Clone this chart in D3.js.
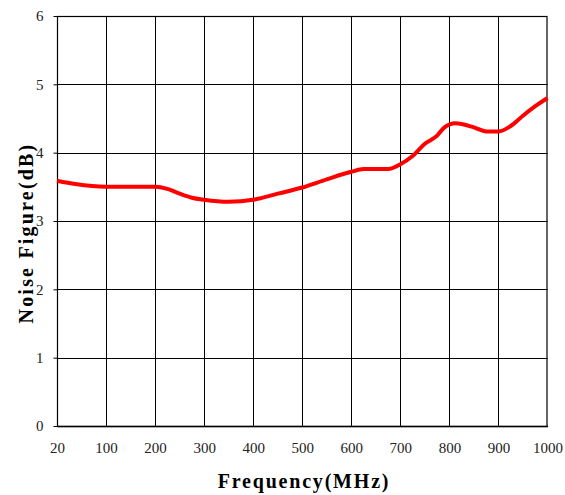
<!DOCTYPE html>
<html>
<head>
<meta charset="utf-8">
<script src="https://cdn.jsdelivr.net/npm/d3@7"></script>
<style>
  body { margin: 0; background: #fff; }
  text { font-family: "Liberation Serif", "Times New Roman", serif; }
</style>
</head>
<body>
<div id="chart"></div>
<script>
// 資料
const freqTicks = [20, 100, 200, 300, 400, 500, 600, 700, 800, 900, 1000];
const nfTicks = [0, 1, 2, 3, 4, 5, 6];
const freq = [20, 50, 100, 150, 200, 225, 250, 275, 300, 350, 400, 450, 500, 550, 600, 625, 650, 675, 700, 725, 750, 775, 790, 812, 850, 875, 900, 925, 950, 975, 1000];
const noiseFigure = [3.59, 3.54, 3.50, 3.50, 3.50, 3.47, 3.40, 3.34, 3.31, 3.28, 3.31, 3.40, 3.49, 3.61, 3.72, 3.76, 3.76, 3.76, 3.83, 3.95, 4.13, 4.25, 4.37, 4.43, 4.37, 4.31, 4.31, 4.39, 4.54, 4.68, 4.80];

const W = 565, H = 495;
const plot = { left: 57, right: 547.5, top: 16, bottom: 426 };

const svg = d3
  .select("#chart")
  .append("svg")
  .attr("width", W)
  .attr("height", H);

// x 軸為等距分類刻度
const x = d3
  .scaleLinear()
  .domain(freqTicks)
  .range(freqTicks.map((d, i) => plot.left + (i * (plot.right - plot.left)) / (freqTicks.length - 1)));
const y = d3.scaleLinear().domain([0, 6]).range([plot.bottom, plot.top]);

// 格線
svg
  .append("g")
  .selectAll("line")
  .data(freqTicks.slice(1, -1))
  .join("line")
  .attr("x1", (d) => Math.round(x(d)) + 0.5)
  .attr("x2", (d) => Math.round(x(d)) + 0.5)
  .attr("y1", plot.top)
  .attr("y2", plot.bottom)
  .attr("stroke", "#000")
  .attr("stroke-width", 1);

svg
  .append("g")
  .selectAll("line")
  .data(nfTicks.slice(1, -1))
  .join("line")
  .attr("x1", plot.left)
  .attr("x2", plot.right)
  .attr("y1", (d) => Math.round(y(d)) + 0.5)
  .attr("y2", (d) => Math.round(y(d)) + 0.5)
  .attr("stroke", "#000")
  .attr("stroke-width", 1);

// 外框
svg
  .append("rect")
  .attr("x", plot.left + 0.5)
  .attr("y", plot.top + 0.5)
  .attr("width", plot.right - plot.left - 1)
  .attr("height", plot.bottom - plot.top)
  .attr("fill", "none")
  .attr("stroke", "#000")
  .attr("stroke-width", 1.2);

// y 軸刻度
const yAxis = svg
  .append("g")
  .attr("transform", `translate(${plot.left + 0.5},0)`)
  .call(d3.axisLeft(y).tickValues(nfTicks).tickSize(4).tickPadding(10).tickFormat(d3.format("d")));
yAxis.select(".domain").remove();
yAxis.selectAll("text").attr("font-size", 15).attr("fill", "#222");

// x 軸刻度
const xAxis = svg
  .append("g")
  .attr("transform", `translate(0,${plot.bottom})`)
  .call(d3.axisBottom(x).tickValues(freqTicks).tickSize(0).tickPadding(16).tickFormat(d3.format("d")));
xAxis.select(".domain").attr("stroke-width", 1.5);
xAxis.selectAll("text").attr("font-size", 15).attr("fill", "#222");

// 曲線
const line = d3
  .line()
  .x((d, i) => x(freq[i]))
  .y((d) => y(d))
  .curve(d3.curveMonotoneX);

svg
  .append("path")
  .datum(noiseFigure)
  .attr("d", line)
  .attr("fill", "none")
  .attr("stroke", "#ff0000")
  .attr("stroke-width", 4)
  .attr("stroke-linejoin", "round");

// 軸標題
svg
  .append("text")
  .attr("x", 304)
  .attr("y", 488)
  .attr("text-anchor", "middle")
  .attr("font-size", 20)
  .attr("font-weight", "bold")
  .attr("letter-spacing", 1.8)
  .text("Frequency(MHz)");

svg
  .append("text")
  .attr("transform", "translate(33,233) rotate(-90)")
  .attr("text-anchor", "middle")
  .attr("font-size", 20)
  .attr("font-weight", "bold")
  .attr("letter-spacing", 2.2)
  .text("Noise Figure(dB)");
</script>
</body>
</html>
